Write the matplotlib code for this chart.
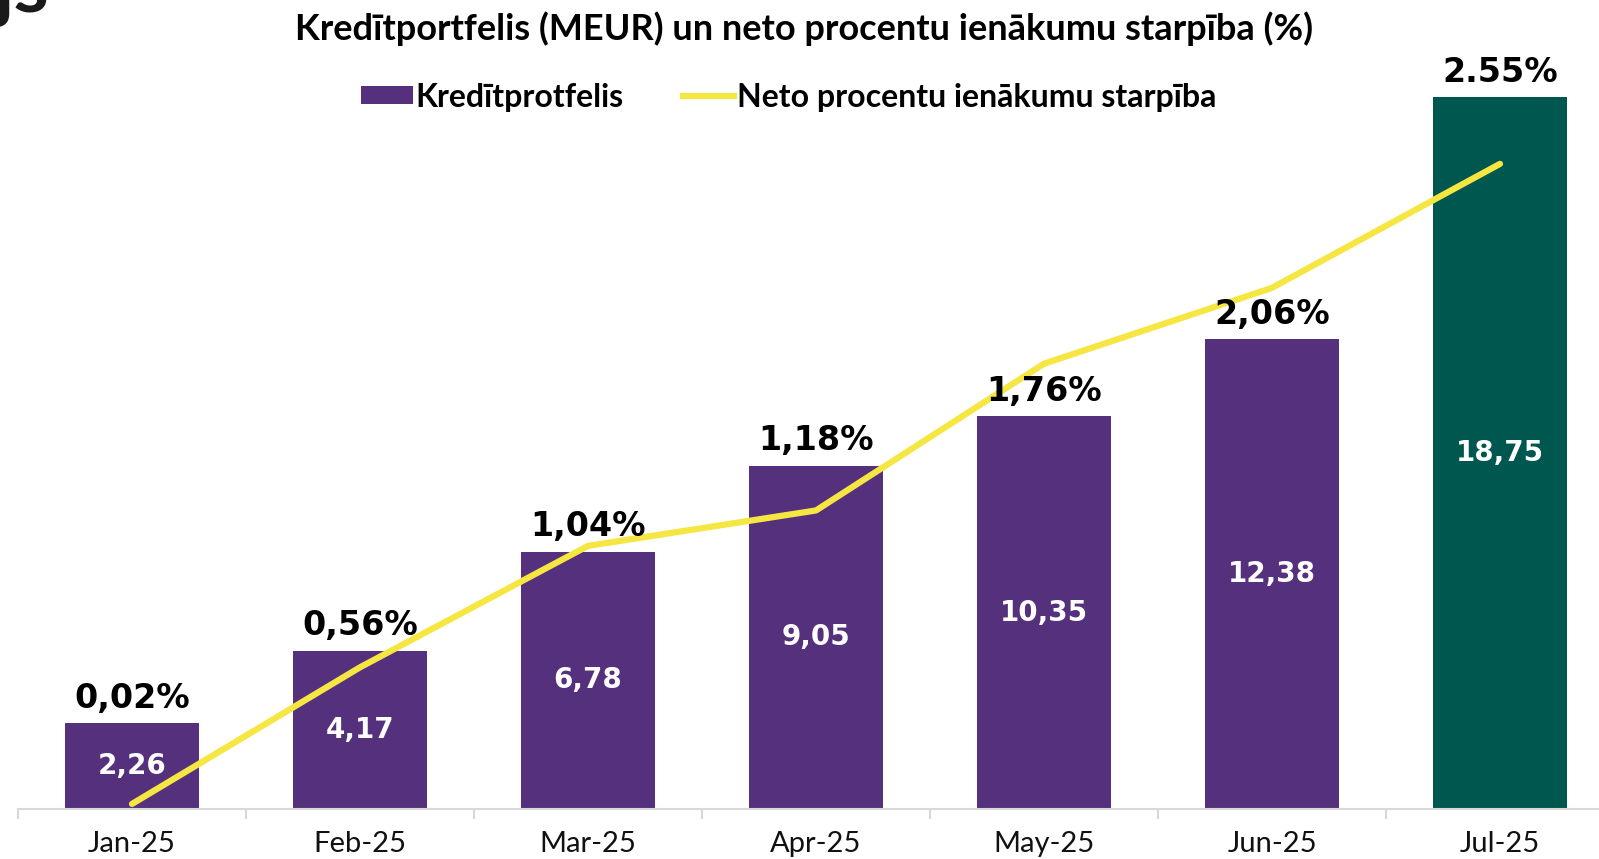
import matplotlib.pyplot as plt
from matplotlib.patches import Patch
from matplotlib.lines import Line2D

plt.rcParams['font.family'] = ['Lato', 'DejaVu Sans']

# data
months = ['Jan-25', 'Feb-25', 'Mar-25', 'Apr-25', 'May-25', 'Jun-25', 'Jul-25']
portfolio = [2.26, 4.17, 6.78, 9.05, 10.35, 12.38, 18.75]
margin = [0.02, 0.56, 1.04, 1.18, 1.76, 2.06, 2.55]
margin_labels = ['0,02%', '0,56%', '1,04%', '1,18%', '1,76%', '2,06%', '2.55%']

purple = '#55307D'
green = '#00574F'
yellow = '#F5E642'
bar_colors = [purple] * 6 + [green]

fig = plt.figure(figsize=(15.99, 8.59), dpi=100)
ax = fig.add_axes([18 / 1599, 50 / 859, 1596 / 1599, 759 / 859])

x = list(range(len(months)))
ax.bar(x, portfolio, width=0.585, color=bar_colors, zorder=2)
ax.set_xlim(-0.5, 6.5)
ax.set_ylim(0, 20)

# axes styling
for s in ['top', 'right', 'left']:
    ax.spines[s].set_visible(False)
ax.spines['bottom'].set_color('#D9D9D9')
ax.spines['bottom'].set_linewidth(1.5)
ax.set_yticks([])
ax.set_xticks(x)
ax.set_xticklabels(months, fontsize=21, color='#111111')
ax.tick_params(axis='x', which='major', length=0, pad=16)
ax.set_xticks([i - 0.5 for i in range(len(months) + 1)], minor=True)
ax.tick_params(axis='x', which='minor', length=7, width=1.5, color='#D9D9D9')

# secondary axis for the margin line
ax2 = ax.twinx()
ax2.set_ylim(0, 3.0)
ax2.axis('off')
ax2.plot(x, margin, color=yellow, linewidth=4.5, solid_capstyle='round', zorder=3)

# labels
for i, v in enumerate(portfolio):
    ax2.annotate(f'{v:.2f}'.replace('.', ','), xy=(i, v / 2), xycoords=ax.transData,
                 ha='center', va='center', color='white', fontsize=20, fontweight='bold',
                 family='DejaVu Sans', zorder=5)
    ax2.annotate(margin_labels[i], xy=(i, v), xycoords=ax.transData, xytext=(0, 6),
                 textcoords='offset points', ha='center', va='bottom', color='black',
                 fontsize=24, fontweight='bold', family='DejaVu Sans', zorder=5)

fig.text(0.503, 1 - 29 / 859, 'Kredītportfelis (MEUR) un neto procentu ienākumu starpība (%)',
         ha='center', va='center', fontsize=26, fontweight='bold', color='black')

# cut-off heading in the top-left corner
fig.text(-0.004, 1 - 12 / 859, 'js', ha='left', va='baseline', fontsize=58,
         fontweight='bold', color='#1a1a1a')

handles = [Patch(facecolor=purple, edgecolor='none'),
           Line2D([0], [0], color=yellow, linewidth=4.5)]
fig.legend(handles, ['Kredītprotfelis', 'Neto procentu ienākumu starpība'],
           loc='center', bbox_to_anchor=(789 / 1599, 1 - 97 / 859), ncol=2, frameon=False,
           handlelength=1.6, handleheight=0.5, handletextpad=0.1,
           columnspacing=1.85, prop={'weight': 'bold', 'size': 23})

fig.savefig('out.png', dpi=100)
